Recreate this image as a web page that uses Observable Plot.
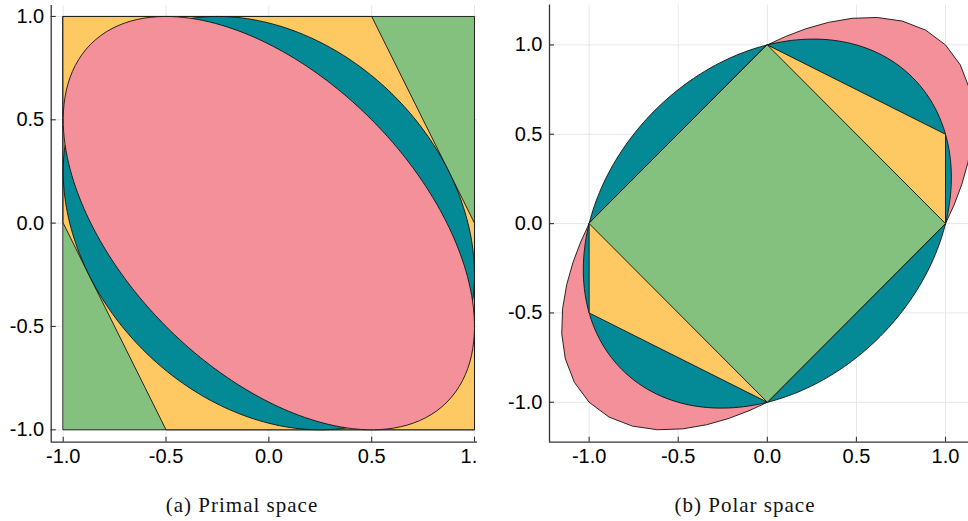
<!DOCTYPE html>
<html><head><meta charset="utf-8">
<script src="https://cdn.jsdelivr.net/npm/d3@7"></script>
<script src="https://cdn.jsdelivr.net/npm/@observablehq/plot@0.6"></script>
<style>
html,body{margin:0;padding:0;background:#fff;overflow:hidden;}
#fig{position:relative;width:968px;height:521px;background:#fff;}
.panel{position:absolute;top:0;}
.cap{position:absolute;top:490px;font-family:"Liberation Serif","Times New Roman",serif;font-size:21px;letter-spacing:1px;transform:translateX(-50%);white-space:nowrap;line-height:30px;color:#111;}
</style></head><body>
<div id="fig">
<div class="panel" id="left" style="left:0px"></div>
<div class="panel" id="right" style="left:484px"></div>
<div class="cap" style="left:242px">(a) Primal space</div>
<div class="cap" style="left:745px">(b) Polar space</div>
</div>
<script>
// ---- data ----
const tickValues = [-1, -0.5, 0, 0.5, 1];
const tickLabels = ["-1.0", "-0.5", "0.0", "0.5", "1.0"];
// primal space polygons
const squareX = [-1, 1, 1, -1];
const squareY = [-1, -1, 1, 1];
const hexX = [-1, 0.5, 1, 1, -0.5, -1];
const hexY = [1, 1, 0, -1, -1, 0];
// polar space polygons
const diamondX = [0, 1, 0, -1];
const diamondY = [1, 0, -1, 0];
const polarHexX = [0, 1, 1, 0, -1, -1];
const polarHexY = [1, 0.5, 0, -1, -0.5, 0];
// ellipses in polar space: a*x^2 + 2*b*x*y + c*y^2 = 1  (primal ones are their polars)
const tealPolarForm = [1, -0.25, 1];
const pinkPolarForm = [1, -0.5, 1];

// ---- styles ----
const GREEN = "#84C07E", YELLOW = "#FEC962", TEAL = "#048A96", PINK = "#F4909A";
const GRID = "#e7e7e7", AXIS = "#333";

function polarForm([a, b, c]) { const d = a * c - b * b; return [c / d, -b / d, a / d]; }
function ellipsePts([a, b, c], n) {
  const pts = [];
  for (let i = 0; i < n; i++) {
    const t = 2 * Math.PI * i / n, u = Math.cos(t), v = Math.sin(t);
    const r = 1 / Math.sqrt(a * u * u + 2 * b * u * v + c * v * v);
    pts.push({x: r * u, y: r * v});
  }
  return pts;
}
const poly = (xs, ys) => xs.map((x, i) => ({x, y: ys[i]}));

function panel(o) {
  const ppuY = (o.height - o.marginTop - o.marginBottom) / (o.yDomain[1] - o.yDomain[0]);
  const ppuX = (o.width - o.marginLeft) / (o.xDomain[1] - o.xDomain[0]);
  const tx = 5 / ppuX, ty = 5 / ppuY;
  const fmt = d => tickLabels[tickValues.indexOf(d)];
  const shapeMarks = o.shapes.map(s => Plot.line(s.data, {x: "x", y: "y", curve: "linear-closed", fill: s.fill, stroke: "#111", strokeWidth: 0.9, strokeLinejoin: "round"}));
  return Plot.plot({
    width: o.width, height: o.height,
    marginLeft: o.marginLeft, marginRight: 0, marginTop: o.marginTop, marginBottom: o.marginBottom,
    style: {fontFamily: "'Liberation Sans', Arial, Helvetica, sans-serif", fontSize: "20px", color: "#000", background: "transparent"},
    x: {domain: o.xDomain, ticks: tickValues, tickFormat: fmt, tickSize: 0, tickPadding: 7, label: null},
    y: {domain: o.yDomain, ticks: tickValues, tickFormat: fmt, tickSize: 0, tickPadding: 7, label: null},
    marks: [
      Plot.ruleX(tickValues, {x: d => d, stroke: GRID, strokeWidth: 1}),
      Plot.ruleY(tickValues, {y: d => d, stroke: GRID, strokeWidth: 1}),
      ...shapeMarks,
      Plot.ruleX([o.xDomain[0]], {x: d => d, stroke: AXIS, strokeWidth: 1.3}),
      Plot.ruleY([o.yDomain[0]], {y: d => d, stroke: AXIS, strokeWidth: 1.3}),
      Plot.ruleX(tickValues, {x: d => d, y1: o.yDomain[0], y2: o.yDomain[0] + ty, stroke: AXIS, strokeWidth: 1.1}),
      Plot.ruleY(tickValues, {y: d => d, x1: o.xDomain[0], x2: o.xDomain[0] + tx, stroke: AXIS, strokeWidth: 1.1})
    ]
  });
}

const left = panel({
  width: 477, height: 480, marginLeft: 50.7, marginTop: 5, marginBottom: 38.3,
  xDomain: [-1.0584, 1.0146], yDomain: [-1.060, 1.053],
  shapes: [
    {data: poly(squareX, squareY), fill: GREEN},
    {data: poly(hexX, hexY), fill: YELLOW},
    {data: ellipsePts(polarForm(tealPolarForm), 240), fill: TEAL},
    {data: ellipsePts(polarForm(pinkPolarForm), 240), fill: PINK}
  ]
});
document.getElementById("left").appendChild(left);

const right = panel({
  width: 484, height: 480, marginLeft: 65, marginTop: 4.5, marginBottom: 38.3,
  xDomain: [-1.2225, 1.129], yDomain: [-1.2235, 1.2235],
  shapes: [
    {data: ellipsePts(pinkPolarForm, 64), fill: PINK},
    {data: ellipsePts(tealPolarForm, 240), fill: TEAL},
    {data: poly(polarHexX, polarHexY), fill: YELLOW},
    {data: poly(diamondX, diamondY), fill: GREEN}
  ]
});
document.getElementById("right").appendChild(right);
</script>
</body></html>
